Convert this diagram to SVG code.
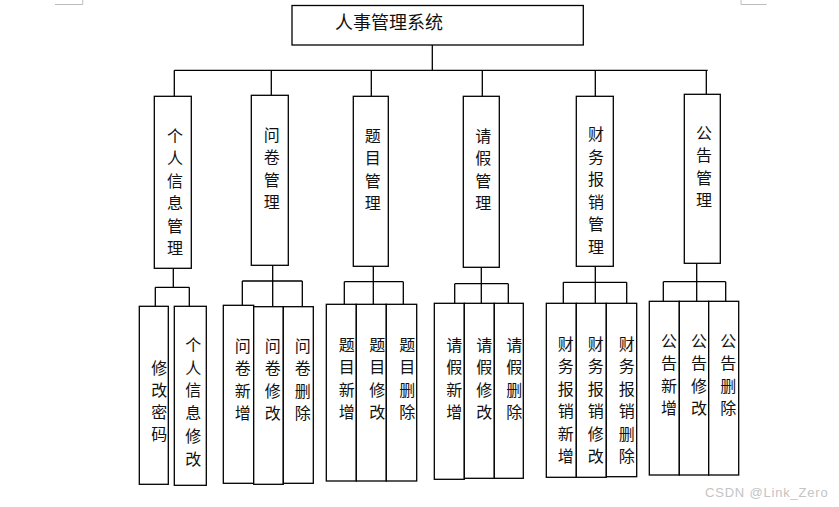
<svg xmlns="http://www.w3.org/2000/svg" width="839" height="507" viewBox="0 0 839 507">
<style>
.box{fill:#fff;stroke:#000;stroke-width:1.3}
.ln{fill:none;stroke:#000;stroke-width:1.3}
.mk{fill:none;stroke:#bdbdbd;stroke-width:1}
text{font-family:"Noto Sans CJK SC","Noto Sans",sans-serif;fill:#111}
.t2{font-size:16px;text-anchor:middle}
.t1{font-size:18px}
.wm{font-family:"Liberation Sans",Arial,sans-serif;font-size:13px;letter-spacing:0.8px;fill:#c4c4c4}
</style>
<rect width="839" height="507" fill="#fff"/>
<g id="page-marks">
<path class="mk" d="M55,4.5H82.7V0M741,0V4.5H766.7"/>
</g>
<g id="connectors">
<path class="ln" d="M432.3,45V70.3M174.3,70.3H707.7M174.3,70.3V96.3M271.3,70.3V95.3M371.3,70.3V96.3M482.3,70.3V96.3M595.3,70.3V96.3M706.3,70.3V94.3"/>
<path class="ln" d="M173.3,268.3V287.3M155.3,287.3H189.3M155.3,287.3V306.3M189.3,287.3V306.3"/>
<path class="ln" d="M272.7,265.3V306.7M242.3,281H302.3M242.3,281V305.3M302.3,281V306.7"/>
<path class="ln" d="M373.3,266.3V304.3M344.3,281.7H403.3M344.3,281.7V304.3M403.3,281.7V304.3"/>
<path class="ln" d="M481.3,267.3V303.3M454.7,283.7H508.3M454.7,283.7V303.3M508.3,283.7V303.3"/>
<path class="ln" d="M595.3,266.3V303.3M563.3,282.3H626.7M563.3,282.3V303.3M626.7,282.3V303.3"/>
<path class="ln" d="M696.7,263.3V301.3M663.3,281.7H725.7M663.3,281.7V301.3M725.7,281.7V301.3"/>
</g>
<g id="root">
<rect class="box" x="292" y="5.5" width="291.3" height="39.5"/>
<text class="t1" x="335" y="28.5">人事管理系统</text>
</g>
<g id="n-personal">
<rect class="box" x="154.3" y="96.3" width="37" height="172"/>
<text class="t2" x="175" y="141.8"><tspan x="175">个</tspan><tspan x="175" dy="22.5">人</tspan><tspan x="175" dy="22.5">信</tspan><tspan x="175" dy="22.5">息</tspan><tspan x="175" dy="22.5">管</tspan><tspan x="175" dy="22.5">理</tspan></text>
</g>
<g id="n-survey">
<rect class="box" x="251.3" y="95.3" width="37" height="170"/>
<text class="t2" x="271.7" y="140.8"><tspan x="271.7">问</tspan><tspan x="271.7" dy="22.5">卷</tspan><tspan x="271.7" dy="22.5">管</tspan><tspan x="271.7" dy="22.5">理</tspan></text>
</g>
<g id="n-question">
<rect class="box" x="353.3" y="96.3" width="35" height="170"/>
<text class="t2" x="372.7" y="141.8"><tspan x="372.7">题</tspan><tspan x="372.7" dy="22.5">目</tspan><tspan x="372.7" dy="22.5">管</tspan><tspan x="372.7" dy="22.5">理</tspan></text>
</g>
<g id="n-leave">
<rect class="box" x="463.3" y="96.3" width="36" height="171"/>
<text class="t2" x="483.3" y="141.8"><tspan x="483.3">请</tspan><tspan x="483.3" dy="22.5">假</tspan><tspan x="483.3" dy="22.5">管</tspan><tspan x="483.3" dy="22.5">理</tspan></text>
</g>
<g id="n-finance">
<rect class="box" x="576.3" y="96.3" width="37" height="170"/>
<text class="t2" x="596" y="140.2"><tspan x="596">财</tspan><tspan x="596" dy="22.5">务</tspan><tspan x="596" dy="22.5">报</tspan><tspan x="596" dy="22.5">销</tspan><tspan x="596" dy="22.5">管</tspan><tspan x="596" dy="22.5">理</tspan></text>
</g>
<g id="n-notice">
<rect class="box" x="684.3" y="94.3" width="36" height="169"/>
<text class="t2" x="704" y="138.5"><tspan x="704">公</tspan><tspan x="704" dy="22.5">告</tspan><tspan x="704" dy="22.5">管</tspan><tspan x="704" dy="22.5">理</tspan></text>
</g>
<g id="n-pwd">
<rect class="box" x="139.3" y="306.3" width="29" height="178"/>
<text class="t2" x="159.3" y="373.5"><tspan x="159.3">修</tspan><tspan x="159.3" dy="22.3">改</tspan><tspan x="159.3" dy="22.3">密</tspan><tspan x="159.3" dy="22.3">码</tspan></text>
</g>
<g id="n-info-edit">
<rect class="box" x="174.3" y="306.3" width="32" height="179"/>
<text class="t2" x="193.3" y="350.8"><tspan x="193.3">个</tspan><tspan x="193.3" dy="22.8">人</tspan><tspan x="193.3" dy="22.8">信</tspan><tspan x="193.3" dy="22.8">息</tspan><tspan x="193.3" dy="22.8">修</tspan><tspan x="193.3" dy="22.8">改</tspan></text>
</g>
<g id="n-survey-add">
<rect class="box" x="223.3" y="305.3" width="30.4" height="178"/>
<text class="t2" x="242.7" y="351.8"><tspan x="242.7">问</tspan><tspan x="242.7" dy="22.5">卷</tspan><tspan x="242.7" dy="22.5">新</tspan><tspan x="242.7" dy="22.5">增</tspan></text>
</g>
<g id="n-survey-edit">
<rect class="box" x="253.7" y="306.7" width="29.6" height="177.6"/>
<text class="t2" x="272.7" y="351.8"><tspan x="272.7">问</tspan><tspan x="272.7" dy="22.5">卷</tspan><tspan x="272.7" dy="22.5">修</tspan><tspan x="272.7" dy="22.5">改</tspan></text>
</g>
<g id="n-survey-del">
<rect class="box" x="283.3" y="306.7" width="30" height="176.6"/>
<text class="t2" x="302.7" y="351.8"><tspan x="302.7">问</tspan><tspan x="302.7" dy="22.5">卷</tspan><tspan x="302.7" dy="22.5">删</tspan><tspan x="302.7" dy="22.5">除</tspan></text>
</g>
<g id="n-q-add">
<rect class="box" x="326.3" y="304.3" width="30" height="176.7"/>
<text class="t2" x="346.7" y="350.8"><tspan x="346.7">题</tspan><tspan x="346.7" dy="22.5">目</tspan><tspan x="346.7" dy="22.5">新</tspan><tspan x="346.7" dy="22.5">增</tspan></text>
</g>
<g id="n-q-edit">
<rect class="box" x="356.3" y="304.3" width="30" height="176.7"/>
<text class="t2" x="377.3" y="350.8"><tspan x="377.3">题</tspan><tspan x="377.3" dy="22.5">目</tspan><tspan x="377.3" dy="22.5">修</tspan><tspan x="377.3" dy="22.5">改</tspan></text>
</g>
<g id="n-q-del">
<rect class="box" x="386.3" y="304.3" width="30.4" height="176.7"/>
<text class="t2" x="407.3" y="350.8"><tspan x="407.3">题</tspan><tspan x="407.3" dy="22.5">目</tspan><tspan x="407.3" dy="22.5">删</tspan><tspan x="407.3" dy="22.5">除</tspan></text>
</g>
<g id="n-l-add">
<rect class="box" x="434.3" y="303.3" width="30" height="176"/>
<text class="t2" x="454.3" y="350.8"><tspan x="454.3">请</tspan><tspan x="454.3" dy="22.5">假</tspan><tspan x="454.3" dy="22.5">新</tspan><tspan x="454.3" dy="22.5">增</tspan></text>
</g>
<g id="n-l-edit">
<rect class="box" x="464.3" y="303.3" width="30" height="175"/>
<text class="t2" x="484.3" y="350.8"><tspan x="484.3">请</tspan><tspan x="484.3" dy="22.5">假</tspan><tspan x="484.3" dy="22.5">修</tspan><tspan x="484.3" dy="22.5">改</tspan></text>
</g>
<g id="n-l-del">
<rect class="box" x="494.3" y="303.3" width="29" height="175"/>
<text class="t2" x="514.3" y="350.8"><tspan x="514.3">请</tspan><tspan x="514.3" dy="22.5">假</tspan><tspan x="514.3" dy="22.5">删</tspan><tspan x="514.3" dy="22.5">除</tspan></text>
</g>
<g id="n-f-add">
<rect class="box" x="546.3" y="303.3" width="30" height="174"/>
<text class="t2" x="565.7" y="349.5"><tspan x="565.7">财</tspan><tspan x="565.7" dy="22.5">务</tspan><tspan x="565.7" dy="22.5">报</tspan><tspan x="565.7" dy="22.5">销</tspan><tspan x="565.7" dy="22.5">新</tspan><tspan x="565.7" dy="22.5">增</tspan></text>
</g>
<g id="n-f-edit">
<rect class="box" x="576.3" y="303.3" width="30" height="174"/>
<text class="t2" x="595.7" y="349.5"><tspan x="595.7">财</tspan><tspan x="595.7" dy="22.5">务</tspan><tspan x="595.7" dy="22.5">报</tspan><tspan x="595.7" dy="22.5">销</tspan><tspan x="595.7" dy="22.5">修</tspan><tspan x="595.7" dy="22.5">改</tspan></text>
</g>
<g id="n-f-del">
<rect class="box" x="606.3" y="303.3" width="30.4" height="173.4"/>
<text class="t2" x="626.7" y="349.5"><tspan x="626.7">财</tspan><tspan x="626.7" dy="22.5">务</tspan><tspan x="626.7" dy="22.5">报</tspan><tspan x="626.7" dy="22.5">销</tspan><tspan x="626.7" dy="22.5">删</tspan><tspan x="626.7" dy="22.5">除</tspan></text>
</g>
<g id="n-n-add">
<rect class="box" x="649.3" y="301.3" width="30" height="173.7"/>
<text class="t2" x="669" y="346.8"><tspan x="669">公</tspan><tspan x="669" dy="22.5">告</tspan><tspan x="669" dy="22.5">新</tspan><tspan x="669" dy="22.5">增</tspan></text>
</g>
<g id="n-n-edit">
<rect class="box" x="679.3" y="301.3" width="29.4" height="173.7"/>
<text class="t2" x="699" y="346.8"><tspan x="699">公</tspan><tspan x="699" dy="22.5">告</tspan><tspan x="699" dy="22.5">修</tspan><tspan x="699" dy="22.5">改</tspan></text>
</g>
<g id="n-n-del">
<rect class="box" x="708.7" y="301.3" width="30" height="173.7"/>
<text class="t2" x="728.3" y="346.8"><tspan x="728.3">公</tspan><tspan x="728.3" dy="22.5">告</tspan><tspan x="728.3" dy="22.5">删</tspan><tspan x="728.3" dy="22.5">除</tspan></text>
</g>
<text class="wm" x="705" y="497">CSDN @Link_Zero</text>
</svg>
